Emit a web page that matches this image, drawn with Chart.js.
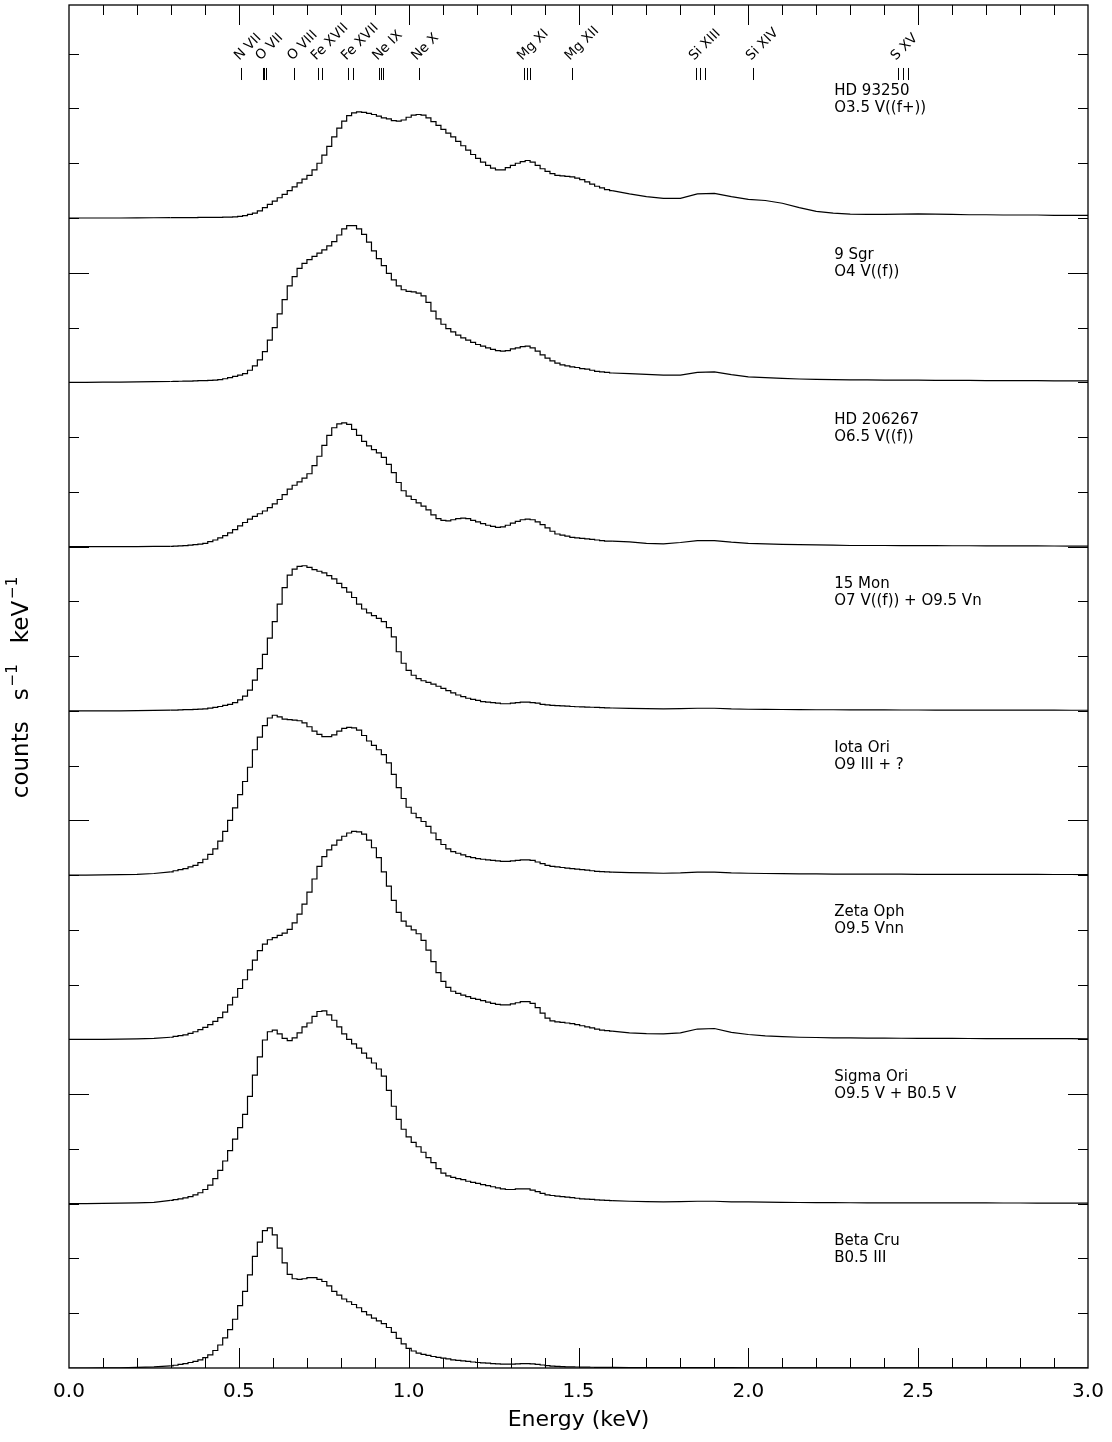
<!DOCTYPE html>
<html>
<head>
<meta charset="utf-8">
<script src="https://cdn.jsdelivr.net/npm/chart.js@4.4.1/dist/chart.umd.min.js"></script>
<style>
html,body{margin:0;padding:0;background:#fff;}
#wrap{width:1112px;height:1442px;}
</style>
</head>
<body>
<div id="wrap"><canvas id="c" width="1112" height="1442"></canvas></div>
<script>
// ---------- DATA ----------
// bin centres (keV); fine 14.6 eV channels between 0.29 and 1.61 keV
const energy = [0,0.05,0.10,0.15,0.20,0.25,
 0.299,0.314,0.328,0.343,0.358,0.372,0.387,0.401,0.416,0.431,
 0.445,0.460,0.474,0.489,0.504,0.518,0.533,0.547,0.562,0.577,
 0.591,0.606,0.620,0.635,0.650,0.664,0.679,0.693,0.708,0.723,
 0.737,0.752,0.766,0.781,0.796,0.810,0.825,0.839,0.854,0.869,
 0.883,0.898,0.912,0.927,0.942,0.956,0.971,0.985,1.000,1.015,
 1.029,1.044,1.058,1.073,1.088,1.102,1.117,1.131,1.146,1.161,
 1.175,1.190,1.204,1.219,1.234,1.248,1.263,1.277,1.292,1.307,
 1.321,1.336,1.350,1.365,1.380,1.394,1.409,1.423,1.438,1.453,
 1.467,1.482,1.496,1.511,1.526,1.540,1.555,1.569,1.584,1.599,
 1.65,1.70,1.75,1.80,1.85,1.90,1.95,2.00,2.05,2.10,2.15,2.20,2.25,2.30,
 2.35,2.40,2.45,2.50,2.55,2.60,2.65,2.70,2.75,2.80,2.85,2.90,2.95,3.00];

const hd93250 = [0,0,0,0,0.003,0.005,
 0.006,0.007,0.007,0.008,0.008,0.009,0.010,0.010,0.011,0.012,
 0.013,0.015,0.018,0.022,0.030,0.045,0.065,0.090,0.130,0.190,
 0.25,0.31,0.37,0.43,0.50,0.57,0.64,0.71,0.78,0.88,
 1.00,1.15,1.31,1.48,1.64,1.77,1.87,1.92,1.94,1.93,
 1.91,1.89,1.86,1.83,1.81,1.78,1.77,1.79,1.84,1.88,
 1.89,1.88,1.83,1.76,1.69,1.62,1.55,1.48,1.40,1.32,
 1.24,1.16,1.09,1.02,0.96,0.91,0.88,0.88,0.92,0.96,
 1.00,1.03,1.05,1.02,0.96,0.90,0.85,0.81,0.78,0.77,
 0.76,0.75,0.73,0.70,0.66,0.62,0.58,0.55,0.52,0.50,
 0.44,0.39,0.36,0.36,0.44,0.45,0.39,0.34,0.32,0.27,0.19,0.12,0.09,0.07,
 0.065,0.065,0.07,0.075,0.07,0.065,0.06,0.06,0.055,0.055,0.055,0.05,0.05,0.05];

const sgr9 = [0,0,0.002,0.005,0.008,0.012,
 0.015,0.017,0.019,0.021,0.023,0.026,0.029,0.032,0.036,0.040,
 0.050,0.065,0.085,0.11,0.13,0.16,0.22,0.30,0.41,0.56,
 0.77,1.00,1.25,1.51,1.76,1.93,2.08,2.17,2.24,2.30,
 2.36,2.42,2.49,2.57,2.69,2.80,2.86,2.86,2.80,2.70,
 2.56,2.40,2.26,2.13,1.99,1.87,1.76,1.69,1.66,1.65,
 1.63,1.58,1.46,1.30,1.16,1.06,0.98,0.92,0.86,0.81,
 0.77,0.73,0.69,0.66,0.63,0.60,0.58,0.57,0.58,0.61,
 0.63,0.65,0.66,0.63,0.57,0.50,0.44,0.39,0.35,0.32,
 0.30,0.28,0.27,0.25,0.24,0.22,0.20,0.19,0.18,0.17,
 0.16,0.145,0.13,0.13,0.18,0.19,0.14,0.10,0.085,0.07,0.06,0.055,0.05,0.045,
 0.045,0.04,0.04,0.04,0.035,0.035,0.035,0.03,0.03,0.03,0.03,0.025,0.025,0.025];

const hd206267 = [0,0,0,0,0,0.003,
 0.005,0.008,0.012,0.018,0.025,0.035,0.045,0.06,0.09,0.12,
 0.16,0.20,0.25,0.31,0.38,0.44,0.50,0.55,0.60,0.65,
 0.71,0.78,0.86,0.95,1.05,1.12,1.18,1.25,1.33,1.48,
 1.65,1.85,2.03,2.17,2.24,2.26,2.23,2.14,2.03,1.92,
 1.84,1.77,1.71,1.63,1.50,1.35,1.17,1.02,0.92,0.86,
 0.80,0.74,0.67,0.58,0.51,0.48,0.47,0.49,0.51,0.52,
 0.51,0.48,0.45,0.42,0.39,0.37,0.35,0.36,0.39,0.43,
 0.46,0.49,0.50,0.49,0.45,0.40,0.34,0.28,0.23,0.21,
 0.19,0.17,0.16,0.15,0.14,0.13,0.12,0.11,0.10,0.10,
 0.085,0.06,0.05,0.075,0.11,0.11,0.08,0.06,0.05,0.04,0.035,0.03,0.025,0.02,
 0.02,0.02,0.018,0.018,0.016,0.015,0.015,0.014,0.013,0.012,0.012,0.011,0.01,0.01];

const mon15 = [0,0,0,0,0.005,0.01,
 0.012,0.015,0.018,0.021,0.024,0.028,0.032,0.038,0.05,0.065,
 0.08,0.10,0.12,0.15,0.20,0.27,0.38,0.56,0.77,1.03,
 1.33,1.63,1.95,2.25,2.48,2.59,2.64,2.65,2.62,2.58,
 2.55,2.52,2.47,2.41,2.33,2.25,2.17,2.07,1.95,1.86,
 1.79,1.74,1.69,1.63,1.52,1.35,1.08,0.87,0.74,0.65,
 0.59,0.55,0.52,0.49,0.45,0.41,0.37,0.33,0.29,0.26,
 0.23,0.21,0.19,0.17,0.16,0.15,0.14,0.13,0.13,0.14,
 0.15,0.16,0.16,0.15,0.14,0.12,0.11,0.10,0.095,0.09,
 0.085,0.08,0.075,0.072,0.07,0.066,0.062,0.058,0.055,0.052,
 0.045,0.04,0.037,0.04,0.048,0.048,0.035,0.03,0.027,0.025,0.022,0.02,0.02,0.018,
 0.018,0.017,0.016,0.016,0.015,0.015,0.014,0.014,0.013,0.013,0.012,0.012,0.011,0.011];

const iotaOri = [0,0.002,0.005,0.01,0.015,0.03,
 0.06,0.08,0.10,0.12,0.15,0.18,0.23,0.29,0.38,0.48,
 0.62,0.80,1.00,1.23,1.47,1.71,1.97,2.29,2.52,2.73,
 2.87,2.92,2.89,2.85,2.84,2.83,2.82,2.78,2.71,2.63,
 2.57,2.53,2.53,2.56,2.63,2.68,2.70,2.69,2.65,2.55,
 2.45,2.37,2.29,2.20,2.05,1.84,1.60,1.40,1.24,1.13,
 1.05,0.98,0.89,0.77,0.65,0.56,0.48,0.43,0.40,0.37,
 0.34,0.32,0.30,0.29,0.28,0.27,0.26,0.25,0.25,0.26,
 0.27,0.28,0.28,0.27,0.24,0.21,0.18,0.16,0.15,0.14,
 0.13,0.12,0.11,0.10,0.09,0.08,0.07,0.065,0.06,0.055,
 0.045,0.04,0.035,0.04,0.055,0.055,0.04,0.035,0.03,0.027,0.025,0.022,0.02,0.02,
 0.018,0.018,0.017,0.016,0.016,0.015,0.015,0.014,0.014,0.013,0.013,0.012,0.012,0.011];

const zetaOph = [0,0,0.002,0.005,0.01,0.02,
 0.04,0.055,0.07,0.085,0.11,0.14,0.18,0.22,0.27,0.33,
 0.40,0.50,0.63,0.77,0.93,1.09,1.27,1.45,1.62,1.74,
 1.82,1.86,1.90,1.94,2.01,2.13,2.29,2.47,2.69,2.93,
 3.16,3.34,3.46,3.55,3.64,3.71,3.77,3.80,3.79,3.75,
 3.64,3.50,3.32,3.06,2.80,2.54,2.32,2.16,2.07,2.00,
 1.93,1.81,1.63,1.42,1.22,1.06,0.95,0.88,0.84,0.81,
 0.78,0.75,0.73,0.71,0.68,0.66,0.64,0.63,0.63,0.65,
 0.67,0.69,0.69,0.66,0.58,0.48,0.39,0.34,0.32,0.31,
 0.30,0.29,0.27,0.25,0.23,0.21,0.19,0.17,0.16,0.15,
 0.12,0.105,0.10,0.12,0.19,0.20,0.13,0.09,0.065,0.05,0.04,0.035,0.03,0.027,
 0.025,0.023,0.022,0.02,0.019,0.018,0.017,0.016,0.015,0.015,0.014,0.013,0.013,0.012];

const sigmaOri = [0,0.002,0.005,0.01,0.015,0.025,
 0.06,0.075,0.09,0.105,0.13,0.16,0.20,0.26,0.34,0.46,
 0.61,0.78,0.97,1.18,1.39,1.63,1.96,2.35,2.68,2.99,
 3.14,3.17,3.10,3.02,2.98,3.03,3.12,3.23,3.30,3.42,
 3.51,3.52,3.45,3.35,3.23,3.10,3.00,2.92,2.84,2.75,
 2.66,2.57,2.46,2.33,2.07,1.78,1.54,1.36,1.22,1.12,
 1.04,0.94,0.84,0.75,0.64,0.56,0.51,0.48,0.46,0.44,
 0.41,0.39,0.37,0.35,0.33,0.31,0.29,0.27,0.26,0.26,
 0.27,0.27,0.27,0.25,0.22,0.19,0.16,0.15,0.14,0.13,
 0.12,0.11,0.10,0.09,0.085,0.08,0.07,0.065,0.06,0.055,
 0.045,0.04,0.035,0.037,0.045,0.045,0.035,0.032,0.028,0.025,0.022,0.02,0.02,0.018,
 0.017,0.017,0.016,0.016,0.015,0.015,0.014,0.014,0.013,0.013,0.012,0.012,0.011,0.011];

const betaCru = [0,0,0.002,0.005,0.01,0.02,
 0.04,0.05,0.065,0.08,0.10,0.12,0.15,0.19,0.24,0.32,
 0.42,0.55,0.70,0.89,1.14,1.40,1.70,2.04,2.30,2.51,
 2.56,2.43,2.19,1.92,1.71,1.63,1.62,1.63,1.65,1.65,
 1.62,1.58,1.50,1.40,1.33,1.26,1.21,1.16,1.10,1.03,
 0.97,0.91,0.86,0.81,0.74,0.65,0.54,0.44,0.36,0.31,
 0.27,0.25,0.23,0.21,0.195,0.18,0.165,0.15,0.14,0.13,
 0.12,0.11,0.10,0.095,0.09,0.08,0.075,0.07,0.07,0.072,
 0.075,0.08,0.08,0.075,0.065,0.055,0.045,0.035,0.03,0.025,
 0.022,0.02,0.018,0.016,0.015,0.014,0.013,0.012,0.011,0.01,
 0.008,0.007,0.006,0.006,0.007,0.008,0.006,0.005,0.005,0.005,0.004,0.004,0.004,0.004,
 0.004,0.004,0.003,0.003,0.003,0.003,0.003,0.003,0.003,0.003,0.003,0.003,0.003,0.003];

const spectra = [hd93250, sgr9, hd206267, mon15, iotaOri, zetaOph, sigmaOri, betaCru];
const starNames = ['HD 93250','9 Sgr','HD 206267','15 Mon','Iota Ori','Zeta Oph','Sigma Ori','Beta Cru'];
const spectralTypes = ['O3.5 V((f+))','O4 V((f))','O6.5 V((f))','O7 V((f)) + O9.5 Vn','O9 III + ?','O9.5 Vnn','O9.5 V + B0.5 V','B0.5 III'];
const panelOffsets = [21,18,15,12,9,6,3,0];

const lineLabels = ['N VII','O VII','O VIII','Fe XVII','Fe XVII','Ne IX','Ne X','Mg XI','Mg XII','Si XIII','Si XIV','S XV'];
const lineEnergies = [[0.507],[0.570,0.574,0.581],[0.663],[0.733,0.746],[0.822,0.835],[0.914,0.919,0.924],[1.029],[1.340,1.348,1.357],[1.480],[1.846,1.858,1.873],[2.014],[2.440,2.455,2.471]];

const xTickValues = [0,0.5,1.0,1.5,2.0,2.5,3.0];
const xTickLabels = ['0.0','0.5','1.0','1.5','2.0','2.5','3.0'];
const xTitle = 'Energy (keV)';
const yTitleParts = ['counts', 's', '\u22121', 'keV', '\u22121'];

// index range of the fine (channel-resolution) bins
const FINE_FIRST = 6, FINE_LAST = 95;

// ---------- CHART ----------
const FONT = '"DejaVu Sans", sans-serif';
Chart.defaults.font.family = FONT;
Chart.defaults.color = '#000';

function makeSet(vals, off, from, to, stepped) {
  const pts = [];
  for (let i = from; i <= to; i++) pts.push({x: energy[i], y: off + vals[i]});
  return {data: pts, borderColor: '#000', borderWidth: 1.2, pointRadius: 0,
          fill: false, stepped: stepped, tension: 0};
}
const datasets = [];
spectra.forEach((vals, k) => {
  const off = panelOffsets[k];
  datasets.push(Object.assign(makeSet(vals, off, 0, FINE_FIRST, false), {label: starNames[k] + ' low'}));
  datasets.push(Object.assign(makeSet(vals, off, FINE_FIRST, FINE_LAST, 'middle'), {label: starNames[k]}));
  datasets.push(Object.assign(makeSet(vals, off, FINE_LAST, energy.length - 1, false), {label: starNames[k] + ' high'}));
});

const decor = {
  id: 'decor',
  afterDraw(chart) {
    const {ctx, chartArea: a, scales: {x, y}} = chart;
    ctx.save();
    ctx.strokeStyle = '#000';
    ctx.lineWidth = 1.3;
    ctx.strokeRect(a.left, a.top, a.right - a.left, a.bottom - a.top);
    ctx.lineWidth = 1;
    ctx.beginPath();
    for (let k = 1; k < 30; k++) {
      const px = Math.round(x.getPixelForValue(k / 10)) + 0.5;
      const len = (k % 5 === 0) ? 20 : 10;
      ctx.moveTo(px, a.bottom); ctx.lineTo(px, a.bottom - len);
      ctx.moveTo(px, a.top); ctx.lineTo(px, a.top + len);
    }
    for (let k = 1; k <= 24; k++) {
      const py = Math.round(y.getPixelForValue(k)) + 0.5;
      const len = (k % 5 === 0) ? 20 : 10;
      ctx.moveTo(a.left, py); ctx.lineTo(a.left + len, py);
      ctx.moveTo(a.right, py); ctx.lineTo(a.right - len, py);
    }
    // line markers
    const yTop = y.getPixelForValue(23.74), yBot = y.getPixelForValue(23.52);
    lineEnergies.forEach(group => group.forEach(e => {
      const px = Math.round(x.getPixelForValue(e)) + 0.5;
      ctx.moveTo(px, yTop); ctx.lineTo(px, yBot);
    }));
    ctx.stroke();
    // rotated line labels
    ctx.fillStyle = '#000';
    ctx.font = '13.5px ' + FONT;
    ctx.textAlign = 'left';
    ctx.textBaseline = 'alphabetic';
    const yLab = y.getPixelForValue(23.87);
    lineLabels.forEach((t, i) => {
      const px = x.getPixelForValue(lineEnergies[i][0]) - 2;
      ctx.save();
      ctx.translate(px, yLab);
      ctx.rotate(-Math.PI / 4);
      ctx.fillText(t, 0, 0);
      ctx.restore();
    });
    // star labels
    ctx.font = '15px ' + FONT;
    const lx = x.getPixelForValue(2.253);
    starNames.forEach((n, k) => {
      ctx.fillText(n, lx, y.getPixelForValue(panelOffsets[k] + 2.246));
      ctx.fillText(spectralTypes[k], lx, y.getPixelForValue(panelOffsets[k] + 1.936));
    });
    // y-axis title with superscripts
    const big = '23px ' + FONT, small = '15px ' + FONT;
    const gap = 21;
    ctx.font = big;
    const w0 = ctx.measureText(yTitleParts[0]).width;
    const w1 = ctx.measureText(yTitleParts[1]).width;
    const w3 = ctx.measureText(yTitleParts[3]).width;
    ctx.font = small;
    const w2 = ctx.measureText(yTitleParts[2]).width;
    const w4 = ctx.measureText(yTitleParts[4]).width;
    const total = w0 + gap + w1 + 2 + w2 + gap + w3 + 2 + w4;
    ctx.save();
    ctx.translate(22, (a.top + a.bottom) / 2 + 1);
    ctx.rotate(-Math.PI / 2);
    ctx.textBaseline = 'middle';
    let cx = -total / 2;
    ctx.font = big; ctx.fillText(yTitleParts[0], cx, 0); cx += w0 + gap;
    ctx.fillText(yTitleParts[1], cx, 0); cx += w1 + 2;
    ctx.font = small; ctx.fillText(yTitleParts[2], cx, -9); cx += w2 + gap;
    ctx.font = big; ctx.fillText(yTitleParts[3], cx, 0); cx += w3 + 2;
    ctx.font = small; ctx.fillText(yTitleParts[4], cx, -9);
    ctx.restore();
    ctx.restore();
  }
};

new Chart(document.getElementById('c'), {
  type: 'line',
  data: {datasets},
  options: {
    responsive: false,
    animation: false,
    layout: {padding: {top: 5, right: 24, left: 0, bottom: 0}},
    plugins: {legend: {display: false}, tooltip: {enabled: false}},
    elements: {point: {radius: 0}},
    scales: {
      x: {
        type: 'linear', min: 0, max: 3, position: 'bottom',
        grid: {display: false, drawTicks: false, tickLength: 0},
        border: {display: false},
        afterBuildTicks: s => { s.ticks = xTickValues.map(v => ({value: v})); },
        ticks: {callback: (v, i) => xTickLabels[i], font: {size: 20}, color: '#000', padding: 12, maxRotation: 0, autoSkip: false},
        title: {display: true, text: xTitle, font: {size: 22}, color: '#000', padding: {top: 0, bottom: 9}},
        afterFit: s => { s.height = 74; s.paddingLeft = 0; s.paddingRight = 0; }
      },
      y: {
        type: 'linear', min: 0, max: 24.89,
        grid: {display: false, drawTicks: false, tickLength: 0},
        border: {display: false},
        ticks: {display: false},
        title: {display: false},
        afterFit: s => { s.width = 69; }
      }
    }
  },
  plugins: [decor]
});
</script>
</body>
</html>
